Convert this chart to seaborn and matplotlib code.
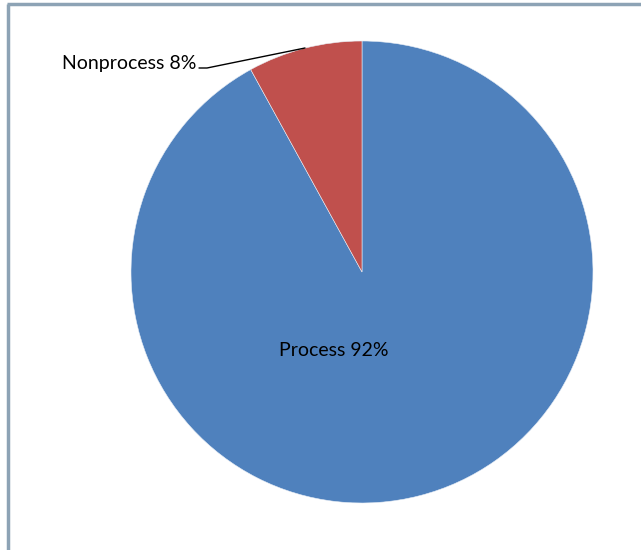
import matplotlib
matplotlib.use("Agg")
import matplotlib.pyplot as plt
import seaborn as sns
import numpy as np

categories = ["Process", "Nonprocess"]
values = [92, 8]
colors = ["#4F81BD", "#C0504D"]

sns.set_style("white")
plt.rcParams['font.family'] = ['Lato', 'DejaVu Sans']

W, H = 641, 550
fig = plt.figure(figsize=(W/100, H/100), dpi=100)
ax = fig.add_axes([0, 0, 1, 1])

cx, cy, r = 362, H - 272, 231
wedges, _ = ax.pie(values, colors=colors, startangle=90, counterclock=False,
                   center=(cx, cy), radius=r, frame=True,
                   wedgeprops=dict(linewidth=0.4, edgecolor="#E8EEF6"))
ax.set_xlim(0, W)
ax.set_ylim(0, H)
ax.set_aspect('equal')
ax.axis('off')

# labels
ax.text(cx - 28, cy - 79, f"{categories[0]} {values[0]}%", ha='center', va='center',
        fontsize=14, color='black')
ax.text(196, H - 64, f"{categories[1]} {values[1]}%", ha='right', va='center',
        fontsize=14, color='black')
ax.plot([199, 207, 305], [H - 68, H - 68, H - 48], color='black', lw=1.0)

# frame
ax.plot([8, 8], [0, H - 4], color='#8DA3B5', lw=2.5, solid_capstyle='butt')
ax.plot([7, W], [H - 4, H - 4], color='#8DA3B5', lw=2.5, solid_capstyle='butt')

fig.savefig("out.png", dpi=100)
